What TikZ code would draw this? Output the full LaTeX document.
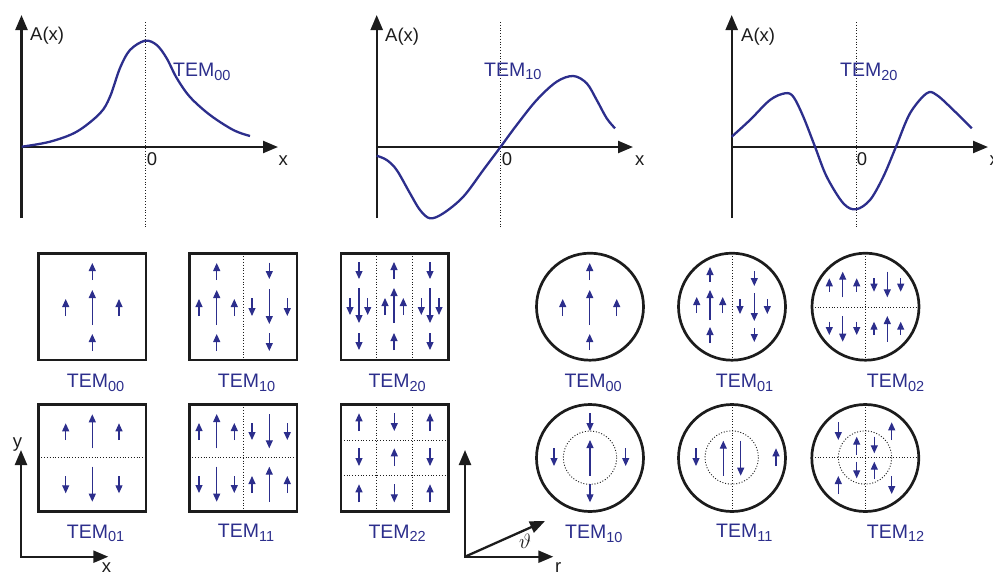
\documentclass[tikz,border=0pt]{standalone}
\usepackage{fontspec}
\setmainfont{Liberation Sans}
\usetikzlibrary{arrows.meta}
\definecolor{mblue}{RGB}{44,46,140}
\definecolor{ink}{RGB}{28,28,28}
\newcommand\mar[3]{\draw[marr] (#1,#2) -- (#1,#3);}
\newcommand\temlab[3]{\node[tem] at (#1,#2) {TEM\raisebox{-3.5pt}{\fontsize{14.5}{14.5}\selectfont #3}};}
\begin{document}
\begin{tikzpicture}[x=1pt,y=-1pt,
  marr/.style={mblue, line width=1.1pt, -{Triangle[length=8pt,width=7pt]}},
  tem/.style={anchor=base west, inner sep=0pt, text=mblue, font=\fontsize{19.5}{19.5}\selectfont},
  lab/.style={anchor=base west, inner sep=0pt, text=ink, font=\fontsize{18.5}{18.5}\selectfont},
  frame/.style={draw=ink, line width=2.7pt, line join=miter},
  axis/.style={ink, line width=2.3pt, line join=miter, -{Triangle[length=15pt,width=12pt]}},
  axisb/.style={ink, line width=2.3pt, line join=miter, {Triangle[length=15pt,width=12pt]}-{Triangle[length=15pt,width=12pt]}},
  dots/.style={ink, line width=0.9pt, dash pattern=on 1pt off 1.8pt},
  curve/.style={mblue, line width=2.3pt}]
\useasboundingbox (0,0) rectangle (993,571);
% ---------- top graphs ----------
% graph 1
\draw[dots] (145,22) -- (145,228);
\draw[axis] (21.5,218) -- (21.5,15);
\draw[axis] (21.5,147) -- (278,147);
\draw[curve] plot[smooth, tension=0.55] coordinates {(21.7,146.7) (50,141.7) (76.7,131.7) (100,113.3) (110,96.7) (120,68) (130,50) (145,40.7) (156.7,45) (166.7,58.3) (176.7,78) (190,97) (210,115) (233.3,130) (250,136)};
\node[lab] at (30,40.7) {A(x)};
\node[lab] at (146.7,165) {0};
\node[lab] at (278.3,165) {x};
\temlab{173}{76.5}{00}
% graph 2
\draw[dots] (500.7,22) -- (500.7,228);
\draw[axis] (376.7,218) -- (376.7,15);
\draw[axis] (376.7,147) -- (633,147);
\draw[curve] plot[smooth, tension=0.55] coordinates {(376.7,155.7) (386.7,160) (396.7,170) (410,193.3) (420,210) (430,218.3) (443.3,213.3) (463.3,196.7) (483.3,170) (500.7,146.7) (516.7,125) (536.7,100) (556.7,81.7) (573.3,76) (586.7,83.3) (596.7,100) (606.7,118.3) (615,128.3)};
\node[lab] at (385,41.7) {A(x)};
\node[lab] at (501.7,165) {0};
\node[lab] at (635,165) {x};
\temlab{484}{76}{10}
% graph 3
\draw[dots] (856,22) -- (856,228);
\draw[axis] (731.7,218) -- (731.7,15);
\draw[axis] (731.7,147) -- (988,147);
\draw[curve] plot[smooth, tension=0.55] coordinates {(731.7,136.7) (750,120) (770,100) (785,93.3) (793.3,96.7) (803.3,116.7) (815,146.7) (826.7,176.7) (843.3,203.3) (856,209.3) (870,200) (883.3,176.7) (896,146.7) (910,113.3) (926.7,93.3) (936.7,95) (953.3,110) (971.7,128.3)};
\node[lab] at (741,41.7) {A(x)};
\node[lab] at (856.7,165) {0};
\node[lab] at (989.3,165) {x};
\temlab{840}{76.7}{20}
% ---------- row 1 boxes ----------
% TEM00
\draw[frame] (38.5,253.5) rectangle (146,360);
\mar{92.3}{325}{290} \mar{92.3}{280}{263} \mar{92.3}{351}{334} \mar{65.7}{316}{299} \mar{119}{316}{299}
\temlab{66.7}{387.7}{00}
% TEM10
\draw[dots] (243.3,253.5) -- (243.3,360);
\draw[frame] (189.5,253.5) rectangle (297,360);
\mar{216.7}{325}{290} \mar{216.7}{280}{263} \mar{216.7}{351}{334} \mar{199}{316}{299} \mar{234.3}{316}{299}
\mar{269.3}{289}{324} \mar{269.3}{262.5}{279} \mar{269.3}{333}{351} \mar{252}{298}{316} \mar{287.3}{298}{316}
\temlab{217.7}{387.7}{10}
% TEM20
\draw[dots] (376.5,253.5) -- (376.5,360);
\draw[dots] (412.3,253.5) -- (412.3,360);
\draw[frame] (341,253.5) rectangle (448.5,360);
\mar{359}{262}{279} \mar{359}{288}{323} \mar{359}{333}{350} \mar{350}{298}{315} \mar{367.7}{298}{315}
\mar{394}{279}{262} \mar{394}{323}{288} \mar{394}{350}{333} \mar{385}{315}{298} \mar{403.3}{315}{298}
\mar{430}{262}{279} \mar{430}{288}{323} \mar{430}{333}{350} \mar{421.3}{298}{315} \mar{439}{298}{315}
\temlab{368.3}{387.7}{20}
% ---------- row 2 boxes ----------
% TEM01
\draw[dots] (38.5,457.7) -- (146,457.7);
\draw[frame] (38.5,404.5) rectangle (146,511.7);
\mar{92.3}{448.3}{414.3} \mar{65.7}{440}{423.3} \mar{119}{440}{423.3}
\mar{92.3}{466.7}{501.7} \mar{65.7}{476}{493.3} \mar{119}{476}{493.3}
\temlab{66.7}{538.3}{01}
% TEM11
\draw[dots] (243.3,404.5) -- (243.3,511.7);
\draw[dots] (189.5,457.7) -- (297,457.7);
\draw[frame] (189.5,404.5) rectangle (297,511.7);
\mar{216.7}{448.3}{414} \mar{199}{440}{423} \mar{234.3}{440}{423}
\mar{269.3}{414}{448.3} \mar{252}{423}{440} \mar{287.3}{423}{440}
\mar{216.7}{466.7}{501.7} \mar{199}{476}{493} \mar{234.3}{476}{493}
\mar{269.3}{501.7}{466.7} \mar{252}{493}{476} \mar{287.3}{493}{476}
\temlab{217.7}{537.7}{11}
% TEM22
\draw[dots] (376.5,404.5) -- (376.5,511.7);
\draw[dots] (412.3,404.5) -- (412.3,511.7);
\draw[dots] (341,440) -- (448.5,440);
\draw[dots] (341,475.7) -- (448.5,475.7);
\draw[frame] (341,404.5) rectangle (448.5,511.7);
\mar{359}{431}{413.3} \mar{394.3}{413.3}{431} \mar{430}{431}{413.3}
\mar{359}{448.3}{466} \mar{394.3}{466}{448.3} \mar{430}{448.3}{466}
\mar{359}{502.3}{484.3} \mar{394.3}{484.3}{502.3} \mar{430}{502.3}{484.3}
\temlab{368.3}{538}{22}
% ---------- axes bottom left ----------
\draw[axisb] (21,450) -- (21,556.7) -- (108.3,556.7);
\node[lab] at (12.7,447.6) {y};
\node[lab] at (101.7,572.6) {x};
% polar axes
\draw[axisb] (465,450) -- (465,556.7) -- (553.3,556.7);
\draw[axis] (465,556.7) -- (545,521);
\node[inner sep=0pt, text=ink, font=\fontsize{22}{22}\selectfont] at (525,541) {$\vartheta$};
\node[lab] at (555,572.6) {r};
% ---------- row 1 circles ----------
% TEM00
\draw[frame] (590,306.7) circle (53.5);
\mar{589.7}{325}{290} \mar{589.7}{280}{263} \mar{589.7}{350}{334} \mar{562.7}{316}{299} \mar{616.7}{316}{299}
\temlab{564.3}{387.7}{00}
% TEM01
\draw[dots] (732,253.2) -- (732,360.2);
\draw[frame] (732,306.7) circle (53.5);
\mar{710}{320}{290} \mar{710}{282}{267} \mar{710}{343}{327} \mar{696.7}{313}{297} \mar{722.7}{313}{297}
\mar{754.3}{293}{321} \mar{754.3}{271}{286} \mar{754.3}{328}{342} \mar{740}{299}{314} \mar{767.3}{299}{314}
\temlab{715.7}{387.7}{01}
% TEM02
\draw[dots] (865.5,253.2) -- (865.5,360.2);
\draw[dots] (812,307.3) -- (919,307.3);
\draw[frame] (865.5,306.7) circle (53.5);
\mar{842.7}{297.3}{271.7} \mar{829.3}{291.7}{278.3} \mar{856.7}{291.7}{278.3}
\mar{887.3}{271.7}{297.3} \mar{874}{278.3}{291.7} \mar{900.7}{278.3}{291.7}
\mar{842.7}{316}{341.7} \mar{829.3}{321.7}{335} \mar{856.7}{321.7}{335}
\mar{887.3}{341.7}{316} \mar{874}{335}{321.7} \mar{900.7}{335}{321.7}
\temlab{866.7}{387.7}{02}
% ---------- row 2 circles ----------
% TEM10
\draw[dots] (590,457.7) circle (26.7);
\draw[frame] (590,458) circle (53.5);
\mar{590}{475.7}{440} \mar{590}{413.3}{431} \mar{590}{484.3}{502.3} \mar{554}{448.3}{466} \mar{625.7}{448.3}{466}
\temlab{565}{538.5}{10}
% TEM11
\draw[dots] (731.7,457.5) circle (26.7);
\draw[dots] (732,404.5) -- (732,511.5);
\draw[frame] (732,458) circle (53.5);
\mar{723.3}{475.7}{440.7} \mar{740.7}{440.7}{475.7} \mar{696}{448.3}{466} \mar{776}{466}{448.3}
\temlab{716}{537.7}{11}
% TEM12
\draw[dots] (865,457.5) circle (26.7);
\draw[dots] (865.5,404.5) -- (865.5,511.5);
\draw[dots] (812,457.7) -- (918.5,457.7);
\draw[frame] (865.3,458) circle (53.5);
\mar{838.3}{422.3}{440} \mar{891.7}{440}{422.3} \mar{838.3}{494}{476} \mar{891.7}{476}{494}
\mar{856.7}{455}{436.7} \mar{874.3}{436.7}{453.3} \mar{856.7}{461.7}{478.3} \mar{874.3}{479.3}{461.7}
\temlab{866.7}{538}{12}
\end{tikzpicture}
\end{document}
